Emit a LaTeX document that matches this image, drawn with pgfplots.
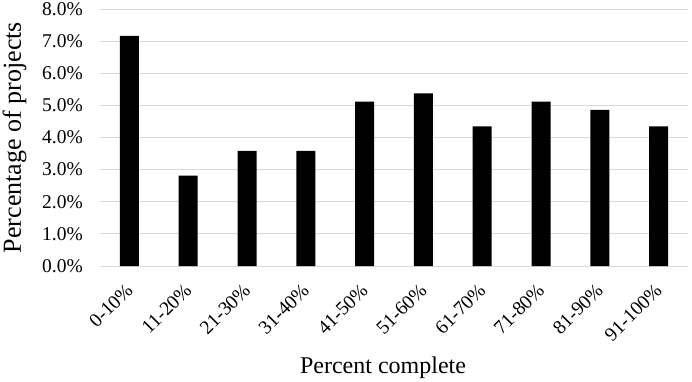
\documentclass[border=0pt]{standalone}
\usepackage{pgfplots}
\pgfplotsset{compat=1.18}
\usepackage{fontspec}
\setmainfont{Liberation Serif}
\definecolor{gridgray}{HTML}{D9D9D9}
\begin{document}
\begin{tikzpicture}
\begin{axis}[
  at={(0,0)}, anchor=south west,
  scale only axis, width=588pt, height=257pt,
  ymin=0, ymax=8,
  ytick={0,1,2,3,4,5,6,7,8},
  yticklabels={0.0\%,1.0\%,2.0\%,3.0\%,4.0\%,5.0\%,6.0\%,7.0\%,8.0\%},
  xmin=-0.5, xmax=9.5,
  xtick={0,1,2,3,4,5,6,7,8,9},
  xticklabels={0-10\%,11-20\%,21-30\%,31-40\%,41-50\%,51-60\%,61-70\%,71-80\%,81-90\%,91-100\%},
  major tick length=0pt,
  axis line style={draw=none},
  ymajorgrids, grid style={gridgray, line width=1pt},
  yticklabel style={font=\fontsize{19.5}{22}\selectfont, inner sep=0pt, anchor=east, xshift=-17pt},
  xticklabel style={font=\fontsize{19.5}{22}\selectfont, inner sep=0pt, yshift=-21pt, xshift=0pt, rotate=45, anchor=east},
  ylabel={Percentage of projects},
  ylabel style={font=\fontsize{26}{29}\selectfont, at={([xshift=-79pt]axis description cs:0,0.5)}, anchor=base, rotate=0},
  xlabel={Percent complete},
  xlabel style={font=\fontsize{24}{27}\selectfont, at={([xshift=-11pt,yshift=-107pt]axis description cs:0.5,0)}, anchor=base},
]
\addplot[ybar, bar width=19pt, fill=black, draw=none] coordinates {
  (0,7.16) (1,2.81) (2,3.58) (3,3.58) (4,5.12) (5,5.37) (6,4.35) (7,5.12) (8,4.86) (9,4.35)
};
\end{axis}
\pgfresetboundingbox
\path (-100pt,-115pt) rectangle (592pt,266pt);
\end{tikzpicture}
\end{document}
